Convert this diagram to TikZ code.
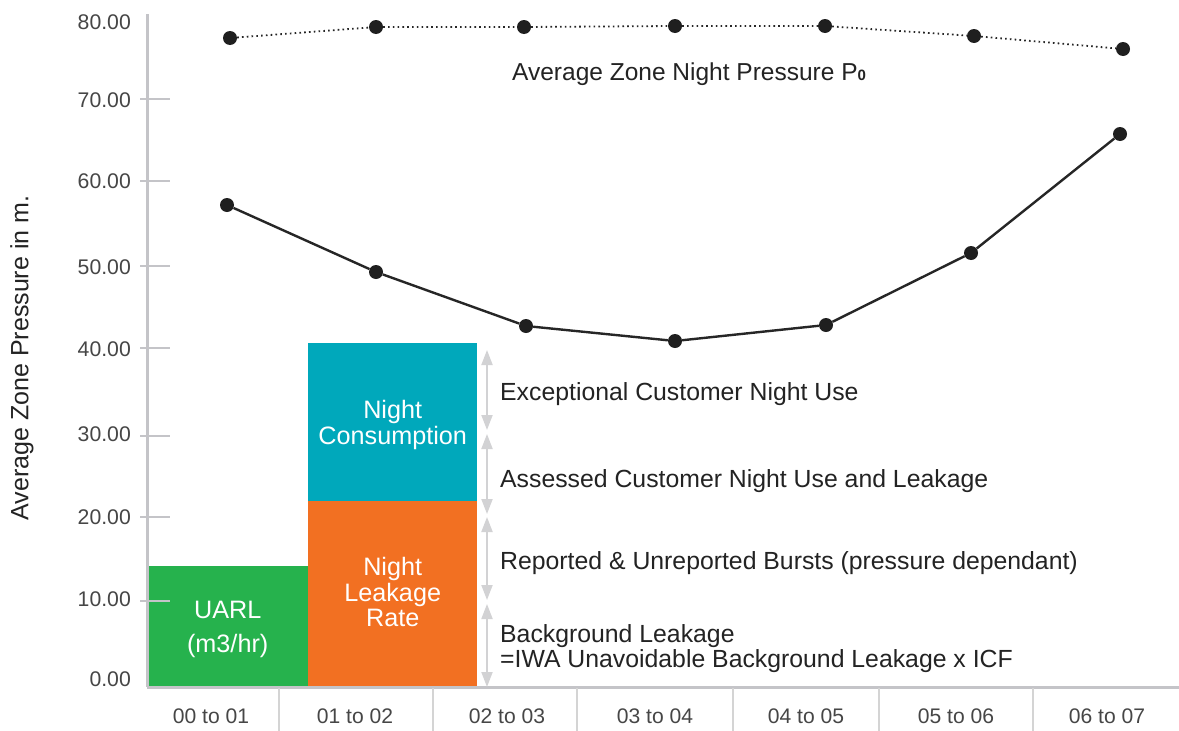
\documentclass[tikz,border=0pt]{standalone}
\usepackage{fontspec}
\setmainfont{Liberation Sans}
\usetikzlibrary{arrows.meta}
\definecolor{cgreen}{RGB}{38,178,77}
\definecolor{corange}{RGB}{242,112,34}
\definecolor{cteal}{RGB}{0,168,187}
\definecolor{axisgrey}{RGB}{196,196,200}
\definecolor{sepgrey}{RGB}{212,212,212}
\definecolor{arrgrey}{RGB}{210,210,212}
\definecolor{txt}{RGB}{35,35,35}
\definecolor{ticktxt}{RGB}{70,70,70}
\begin{document}
\begin{tikzpicture}[x=1pt,y=-1pt,
  dot/.style={circle,fill=black!88,inner sep=0pt,minimum size=14pt},
  solidline/.style={line width=2.4pt,draw=black!85},
  dotline/.style={line width=1.8pt,draw=black!85,dash pattern=on 1.6pt off 3.2pt},
  ticklab/.style={anchor=east,text=ticktxt,font=\fontsize{21.2}{24}\selectfont,inner sep=0pt},
  catlab/.style={text=ticktxt,font=\fontsize{21.1}{24}\selectfont,inner sep=0pt},
  desc/.style={anchor=west,text=txt,font=\fontsize{24.8}{25}\selectfont,inner sep=0pt,align=left},
  barbox/.style={anchor=north west,draw=none,inner sep=0pt,text=white,align=center,font=\fontsize{25.2}{25.5}\selectfont},
  bartext/.style={text=white,align=center,inner sep=0pt,font=\fontsize{25.2}{25.5}\selectfont},
  garrow/.style={draw=arrgrey,line width=1.8pt,{Triangle[width=11pt,length=15pt]}-{Triangle[width=11pt,length=15pt]},shorten <=0pt,shorten >=0pt},
  axisline/.style={draw=axisgrey,line width=3pt},
  tickline/.style={draw=axisgrey,line width=2.2pt},
  sepline/.style={draw=sepgrey,line width=1.4pt}]
\useasboundingbox (0,0) rectangle (1179,731);
\fill[white] (0,0) rectangle (1179,731);

% bars
\node[barbox,fill=cgreen,minimum width=161pt,minimum height=121pt] (uarl) at (147,566) {};
\node[barbox,fill=corange,minimum width=169pt,minimum height=186pt] (nlr) at (308,501) {};
\node[barbox,fill=cteal,minimum width=169pt,minimum height=158pt] (ncon) at (308,343) {};
\node[bartext] (uarlt) at ([yshift=-2.5pt]uarl.center) {UARL\\[8pt](m3/hr)};
\node[bartext] (nlrt) at ([yshift=2pt]nlr.center) {Night\\Leakage\\Rate};
\node[bartext] (ncont) at ([yshift=-3pt]ncon.center) {Night\\Consumption};

% axes
\coordinate (ytop) at (147,14);
\coordinate (orig) at (147,687);
\coordinate (xend) at (1179,687);
\draw[axisline] (ytop) -- (orig);
\draw[axisline] (orig) -- (xend);

% ticks
\foreach \yy/\lab/\ly [count=\i] in {17/80.00/22,99/70.00/100,181/60.00/181,266/50.00/267,348/40.00/349,436/30.00/434,517/20.00/517,601/10.00/599,687/0.00/679}{
  \coordinate (tl\i) at (140,\yy);
  \coordinate (tr\i) at (170,\yy);
  \ifnum\i>1\ifnum\i<9 \draw[tickline] (tl\i) -- (tr\i);\fi\fi
  \node[ticklab] (tick\i) at (131,\ly) {\lab};
}

% category separators
\foreach \xx [count=\i] in {279,433,577,733,879,1033}{
  \coordinate (st\i) at (\xx,688);
  \coordinate (sb\i) at (\xx,731);
  \draw[sepline] (st\i) -- (sb\i);
}
\foreach \xx/\lab [count=\i] in {211/00 to 01,355/01 to 02,507/02 to 03,655/03 to 04,806/04 to 05,956/05 to 06,1107/06 to 07}{
  \node[catlab] (cat\i) at (\xx,716) {\lab};
}

% y label
\node[rotate=90,text=txt,font=\fontsize{25}{25}\selectfont,inner sep=0pt] (ylab) at (22,358) {Average Zone Pressure in m.};

% dotted series
\node[dot] (d1) at (230,38) {};
\node[dot] (d2) at (376,27) {};
\node[dot] (d3) at (524,27) {};
\node[dot] (d4) at (675,26) {};
\node[dot] (d5) at (825,26) {};
\node[dot] (d6) at (974,36) {};
\node[dot] (d7) at (1123,49) {};
\draw[dotline] (d1) -- (d2) -- (d3) -- (d4) -- (d5) -- (d6) -- (d7);
\node[text=txt,font=\fontsize{24.5}{25}\selectfont,inner sep=0pt,anchor=west] (title) at (512,74) {Average Zone Night Pressure P\textbf{\fontsize{15}{15}\selectfont 0}};

% solid series
\node[dot] (s1) at (227,205) {};
\node[dot] (s2) at (376,272) {};
\node[dot] (s3) at (526,326) {};
\node[dot] (s4) at (675,341) {};
\node[dot] (s5) at (826,325) {};
\node[dot] (s6) at (971,253) {};
\node[dot] (s7) at (1120,134) {};
\draw[solidline] (s1) -- (s2) -- (s3) -- (s4) -- (s5) -- (s6) -- (s7);

% double arrows
\coordinate (a1t) at (487,350);
\coordinate (a1b) at (487,430);
\coordinate (a2t) at (487,434);
\coordinate (a2b) at (487,514);
\coordinate (a3t) at (487,517);
\coordinate (a3b) at (487,600);
\coordinate (a4t) at (487,604);
\coordinate (a4b) at (487,687);
\draw[garrow] (a1t) -- (a1b);
\draw[garrow] (a2t) -- (a2b);
\draw[garrow] (a3t) -- (a3b);
\draw[garrow] (a4t) -- (a4b);

% descriptions
\node[desc] (e1) at (500,394) {Exceptional Customer Night Use};
\node[desc] (e2) at (500,481) {Assessed Customer Night Use and Leakage};
\node[desc] (e3) at (500,563) {Reported \& Unreported Bursts (pressure dependant)};
\node[desc] (e4) at (500,649) {Background Leakage\\=IWA Unavoidable Background Leakage x ICF};
\end{tikzpicture}
\end{document}
